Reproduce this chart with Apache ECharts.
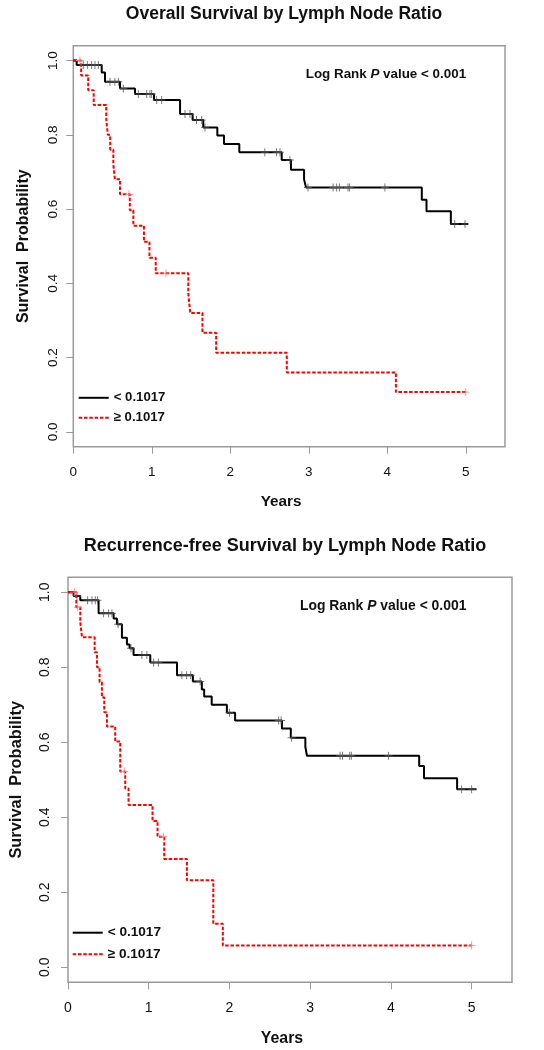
<!DOCTYPE html>
<html><head><meta charset="utf-8">
<script src="https://cdn.jsdelivr.net/npm/echarts@6/dist/echarts.min.js"></script>
<style>html,body{margin:0;padding:0;background:#fff;}#c{width:544px;height:1050px;}</style>
</head><body><div id="c"></div>
<script>
// ---------- Data ----------
const xTicks = [0, 1, 2, 3, 4, 5];
const yTicks = [0, 0.2, 0.4, 0.6, 0.8, 1.0];
const groupLabels = ['< 0.1017', '\u2265 0.1017'];
const plotTitles = ['Overall Survival by Lymph Node Ratio', 'Recurrence-free Survival by Lymph Node Ratio'];

// Overall survival, LNR < 0.1017
const osLowT = [0, 0.043, 0.362, 0.404, 0.595, 0.786, 1.028, 1.36, 1.52, 1.656, 1.835, 1.92, 2.115, 2.655, 2.773, 2.94, 2.965, 4.44, 4.50, 4.81, 5.03];
const osLowS = [1.0, 0.988, 0.968, 0.943, 0.925, 0.91, 0.894, 0.856, 0.84, 0.82, 0.798, 0.775, 0.753, 0.732, 0.706, 0.68, 0.658, 0.625, 0.594, 0.56, 0.56];
const osLowCensT = [0.127, 0.179, 0.234, 0.276, 0.319, 0.467, 0.53, 0.574, 0.637, 0.828, 0.935, 0.977, 0.998, 1.062, 1.126, 1.423, 1.487, 1.57, 1.636, 1.678, 2.44, 2.59, 2.633, 2.76, 2.99, 3.31, 3.355, 3.39, 3.50, 3.52, 3.97, 4.86, 4.99];
const osLowCensS = [0.988, 0.988, 0.988, 0.988, 0.988, 0.943, 0.943, 0.943, 0.925, 0.91, 0.91, 0.91, 0.91, 0.894, 0.894, 0.856, 0.856, 0.84, 0.84, 0.82, 0.753, 0.753, 0.753, 0.732, 0.658, 0.658, 0.658, 0.658, 0.658, 0.658, 0.658, 0.56, 0.56];

// Overall survival, LNR >= 0.1017
const osHighT = [0, 0.10, 0.19, 0.26, 0.42, 0.44, 0.47, 0.51, 0.53, 0.595, 0.72, 0.765, 0.90, 0.97, 1.05, 1.465, 1.49, 1.645, 1.82, 2.72, 4.11, 5.0];
const osHighS = [1.0, 0.96, 0.92, 0.88, 0.84, 0.80, 0.76, 0.72, 0.68, 0.64, 0.597, 0.555, 0.512, 0.469, 0.427, 0.373, 0.32, 0.267, 0.213, 0.16, 0.107, 0.107];
const osHighCensT = [0.085, 0.71, 1.18, 5.0];
const osHighCensS = [1.0, 0.64, 0.427, 0.107];

// Recurrence-free survival, LNR < 0.1017
const rfsLowT = [0, 0.07, 0.152, 0.379, 0.565, 0.606, 0.668, 0.73, 0.763, 0.812, 1.019, 1.35, 1.547, 1.658, 1.687, 1.78, 1.968, 2.07, 2.65, 2.76, 2.94, 2.96, 4.35, 4.41, 4.82, 5.06];
const rfsLowS = [1.0, 0.99, 0.979, 0.944, 0.93, 0.915, 0.879, 0.861, 0.851, 0.833, 0.813, 0.779, 0.762, 0.741, 0.722, 0.70, 0.679, 0.658, 0.637, 0.612, 0.588, 0.564, 0.537, 0.504, 0.475, 0.475];
const rfsLowCensT = [0.111, 0.243, 0.297, 0.338, 0.366, 0.441, 0.503, 0.544, 0.62, 0.78, 0.915, 0.977, 1.06, 1.12, 1.41, 1.47, 1.52, 1.637, 2.0, 2.61, 2.64, 2.77, 3.37, 3.40, 3.49, 3.51, 3.97, 4.876, 5.0];
const rfsLowCensS = [0.99, 0.979, 0.979, 0.979, 0.979, 0.944, 0.944, 0.944, 0.915, 0.851, 0.833, 0.833, 0.813, 0.813, 0.779, 0.779, 0.779, 0.762, 0.679, 0.658, 0.658, 0.612, 0.564, 0.564, 0.564, 0.564, 0.564, 0.475, 0.475];

// Recurrence-free survival, LNR >= 0.1017
const rfsHighT = [0, 0.103, 0.152, 0.173, 0.33, 0.359, 0.391, 0.42, 0.449, 0.482, 0.585, 0.647, 0.709, 0.75, 1.047, 1.109, 1.192, 1.473, 1.80, 1.918, 5.0];
const rfsHighS = [1.0, 0.96, 0.92, 0.88, 0.84, 0.80, 0.76, 0.72, 0.68, 0.642, 0.602, 0.522, 0.477, 0.433, 0.39, 0.348, 0.289, 0.232, 0.116, 0.058, 0.058];
const rfsHighCensT = [0.078, 0.12, 0.697, 1.183, 5.0];
const rfsHighCensS = [1.0, 0.96, 0.522, 0.348, 0.058];

// ---------- Chart ----------
const FONT = '"Liberation Sans", Arial, Helvetica, sans-serif';
const pairs = (t, s) => t.map((v, i) => [v, s[i]]);
const PLUS = 'path://M4.4,0H5.6V4.4H10V5.6H5.6V10H4.4V5.6H0V4.4H4.4Z';
const BOX = '#9a9a9a';

function xAxis(gi, fs, nameFs) {
  return {
    type: 'value', gridIndex: gi, min: 0, max: 5.5, interval: 1,
    axisLine: { show: false, onZero: false }, splitLine: { show: false },
    axisTick: { show: true, length: 7, customValues: xTicks, lineStyle: { color: BOX, width: 1 } },
    axisLabel: { customValues: xTicks, fontSize: fs, fontFamily: FONT, color: '#111', margin: 19 },
    name: 'Years', nameLocation: 'middle', nameGap: 48,
    nameTextStyle: { fontSize: nameFs, fontWeight: 'bold', fontFamily: FONT, color: '#111', padding: [0, 16, 0, 0] }
  };
}
function yAxis(gi, fs, nameFs, margin, gap) {
  return {
    type: 'value', gridIndex: gi, min: -0.04, max: 1.04,
    axisLine: { show: false, onZero: false }, splitLine: { show: false },
    axisTick: { show: true, length: 7, customValues: yTicks, lineStyle: { color: BOX, width: 1 } },
    axisLabel: { customValues: yTicks, rotate: 90, fontSize: fs, fontFamily: FONT, color: '#111', margin: margin,
      formatter: v => v.toFixed(1) },
    name: 'Survival  Probability', nameLocation: 'middle', nameGap: gap, nameRotate: 90,
    nameTextStyle: { fontSize: nameFs, fontWeight: 'bold', fontFamily: FONT, color: '#111' }
  };
}
function curves(gi, lowT, lowS, highT, highS, lcT, lcS, hcT, hcS) {
  return [
    { type: 'line', name: groupLabels[0], xAxisIndex: gi, yAxisIndex: gi, data: pairs(lowT, lowS), step: 'end',
      symbol: 'none', lineStyle: { color: '#000', width: 2 }, itemStyle: { color: '#000' }, z: 3 },
    { type: 'line', name: groupLabels[1], xAxisIndex: gi, yAxisIndex: gi, data: pairs(highT, highS), step: 'end',
      symbol: 'none', lineStyle: { color: '#ff0000', width: 2, type: [3.5, 1.8] }, itemStyle: { color: '#ff0000' }, z: 3 },
    { type: 'scatter', name: 'censLow' + gi, xAxisIndex: gi, yAxisIndex: gi, data: pairs(lcT, lcS), symbol: PLUS,
      symbolSize: 8, itemStyle: { color: '#555' }, z: 4, silent: true },
    { type: 'scatter', name: 'censHigh' + gi, xAxisIndex: gi, yAxisIndex: gi, data: pairs(hcT, hcS), symbol: PLUS,
      symbolSize: 8, itemStyle: { color: '#ff7a7a' }, z: 4, silent: true }
  ];
}
function legend(left, top, fs, gap) {
  return { data: groupLabels, orient: 'vertical', left: left, top: top, padding: 0, itemWidth: 30, itemHeight: 14,
    itemGap: gap, selectedMode: false,
    itemStyle: { color: 'transparent', borderColor: 'transparent', borderWidth: 0, opacity: 0 },
    textStyle: { fontSize: fs, fontWeight: 'bold', fontFamily: FONT, color: '#111' } };
}
function logRank(x, y, fs) {
  return { type: 'text', x: x, y: y, silent: true, style: {
    text: '{b|Log Rank }{i|P}{b| value < 0.001}', verticalAlign: 'middle', align: 'left',
    rich: { b: { fontSize: fs, fontWeight: 'bold', fontFamily: FONT, fill: '#111' },
            i: { fontSize: fs, fontWeight: 'bold', fontStyle: 'italic', fontFamily: FONT, fill: '#111' } } } };
}

const chart = echarts.init(document.getElementById('c'), null, { renderer: 'canvas' });
chart.setOption({
  animation: false,
  backgroundColor: '#fff',
  grid: [
    { left: 73.3, right: 39, top: 45.7, height: 401, show: true, borderColor: BOX, borderWidth: 1.5, backgroundColor: 'transparent' },
    { left: 67.7, right: 32, top: 577.3, height: 405, show: true, borderColor: BOX, borderWidth: 1.5, backgroundColor: 'transparent' }
  ],
  xAxis: [xAxis(0, 13.5, 15.3), xAxis(1, 14, 15.9)],
  yAxis: [yAxis(0, 13.5, 16, 13, 42), yAxis(1, 14, 16.4, 15.5, 44)],
  legend: [legend(77.7, 391.3, 13.2, 7), legend(71.7, 925.7, 13.6, 7.6)],
  graphic: [
    { type: 'text', x: 284, y: 14, silent: true, style: { text: plotTitles[0], align: 'center', verticalAlign: 'middle',
      fontSize: 17.5, fontWeight: 'bold', fontFamily: FONT, fill: '#111' } },
    { type: 'text', x: 285, y: 546, silent: true, style: { text: plotTitles[1], align: 'center', verticalAlign: 'middle',
      fontSize: 18, fontWeight: 'bold', fontFamily: FONT, fill: '#111' } },
    logRank(305.7, 74, 13.4),
    logRank(300, 606, 13.9)
  ],
  series: [].concat(
    curves(0, osLowT, osLowS, osHighT, osHighS, osLowCensT, osLowCensS, osHighCensT, osHighCensS),
    curves(1, rfsLowT, rfsLowS, rfsHighT, rfsHighS, rfsLowCensT, rfsLowCensS, rfsHighCensT, rfsHighCensS)
  )
});
</script></body></html>
